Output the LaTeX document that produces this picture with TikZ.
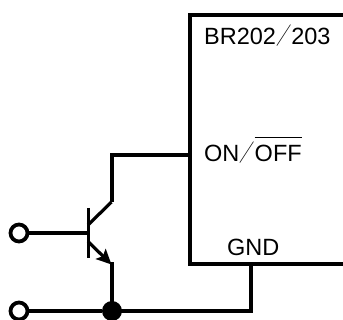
\documentclass[tikz,border=0pt]{standalone}
\usepackage{graphicx}
\usepackage{fontspec}
\setmainfont{Liberation Sans}
\newfontfamily\cjkslash{Noto Sans CJK JP Light}
\usetikzlibrary{arrows.meta}
\newcommand{\fs}{\scalebox{.65}[1]{\cjkslash ／}}
\tikzset{
  wire/.style={line width=4pt,line cap=butt,line join=miter},
  thinwire/.style={line width=3.2pt},
  terminal/.style={circle,draw,line width=3.8pt,fill=white,minimum size=17pt,inner sep=0pt},
  junction/.style={circle,fill=black,minimum size=20pt,inner sep=0pt},
  label/.style={inner sep=0pt,font=\fontsize{23.5pt}{25pt}\selectfont,anchor=base west}
}
\begin{document}
\begin{tikzpicture}[x=1pt,y=-1pt]
\useasboundingbox (0,0) rectangle (343,320);
% device box
\draw[wire] (343,15) -- (189.5,15) -- (189.5,264) -- (343,264);
\node[label] (name) at (204,45) {BR202\fs 203};
\node[label] (onoff) at (204,162) {ON\fs\rlap{\raisebox{23.5pt}{\rule{47pt}{1.5pt}}}OFF};
\node[label] (gnd) at (227,256) {GND};
% coordinates
\coordinate (pin) at (189.5,155);
\coordinate (corner) at (111.5,155);
\coordinate (cEnd) at (111.5,202);
\coordinate (cBase) at (88,225);
\coordinate (eBase) at (88,241.5);
\coordinate (eEnd) at (111.5,264.5);
\coordinate (eTop) at (111.5,262.5);
\coordinate (bar1) at (88.5,208);
\coordinate (bar2) at (88.5,258);
\coordinate (gndPin) at (251,264);
\coordinate (gndCorner) at (251,311);
\node[junction] (dot) at (112,311) {};
\node[terminal] (t1) at (19,233) {};
\node[terminal] (t2) at (19,311) {};
% wires
\draw[wire] (pin) -- (corner) -- (cEnd);
\draw[thinwire] (cEnd) -- (cBase);
\draw[thinwire] (bar1) -- (bar2);
\draw[thinwire] (t1) -- (bar1 |- t1);
\draw[thinwire,-{Stealth[length=15pt,width=14pt,inset=3pt]}] (eBase) -- (eEnd);
\draw[wire] (eTop) -- (eTop |- dot);
\draw[thinwire] (t2) -- (dot);
\draw[thinwire,line join=miter] (dot.center) -- (gndCorner) -- (gndPin);
\end{tikzpicture}
\end{document}
